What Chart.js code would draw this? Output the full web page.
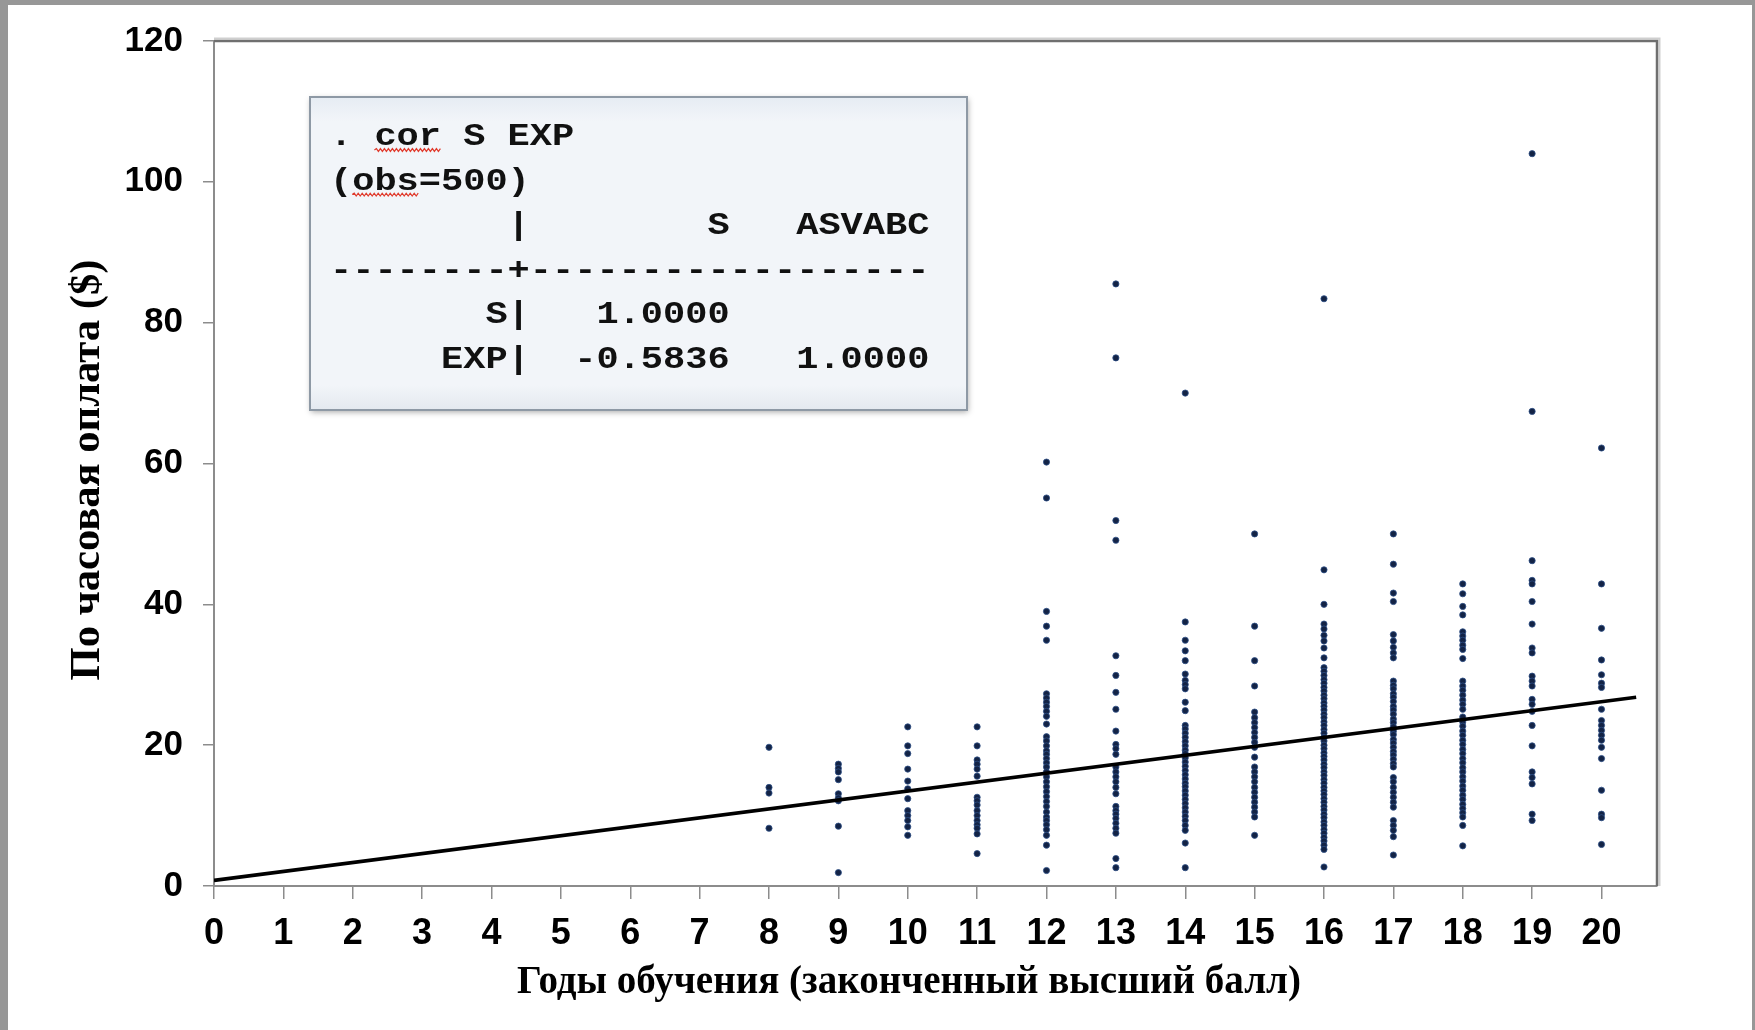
<!DOCTYPE html>
<html><head><meta charset="utf-8">
<script src="https://cdn.jsdelivr.net/npm/chart.js@4.4.1/dist/chart.umd.min.js"></script>
<style>html,body{margin:0;padding:0;background:#fff;overflow:hidden}#wrap{width:1755px;height:1030px;position:relative}</style>
</head><body><div id="wrap"><canvas id="c" width="1755" height="1030"></canvas></div>
<script>
// ---- data ----
const schooling = [8, 9, 10, 11, 12, 13, 14, 15, 16, 17, 18, 19, 20];
const wage8  = [19.7, 14.0, 13.2, 8.2];
const wage9  = [17.3, 16.7, 16.2, 15.1, 13.1, 12.5, 12.1, 8.5, 1.9];
const wage10 = [22.6, 19.9, 18.8, 16.6, 14.9, 13.8, 12.4, 10.7, 10.0, 9.3, 8.4, 7.2];
const wage11 = [22.6, 19.9, 17.9, 17.3, 16.6, 15.6, 12.6, 12.1, 11.5, 10.7, 10.0, 9.3, 8.7, 8.2, 7.4, 4.6];
const wage12 = [60.2, 55.1, 39.0, 36.9, 34.9, 27.3, 26.7, 26.1, 25.5, 24.8, 24.1, 23.0, 21.2, 20.6, 19.9, 19.2, 18.7, 18.1, 17.5, 16.9, 16.2, 15.5, 14.8, 14.1, 13.4, 12.7, 12.0, 11.3, 10.5, 9.8, 9.3, 8.7, 8.0, 7.2, 5.8, 2.2];
const wage13 = [85.5, 75.0, 51.9, 49.1, 32.7, 29.9, 27.5, 25.1, 22.0, 20.1, 19.5, 18.7, 16.9, 16.2, 15.5, 14.8, 14.0, 13.1, 11.3, 10.7, 10.2, 9.6, 8.9, 8.2, 7.5, 3.9, 2.6];
const wage14 = [70.0, 37.5, 34.9, 33.4, 32.0, 30.1, 29.2, 28.6, 28.0, 26.1, 24.9, 22.8, 22.3, 21.7, 21.1, 20.5, 19.9, 19.3, 18.8, 18.2, 17.6, 17.0, 16.4, 15.8, 15.2, 14.6, 14.1, 13.5, 12.9, 12.3, 11.7, 11.1, 10.5, 9.9, 9.3, 8.6, 7.9, 6.1, 2.6];
const wage15 = [50.0, 36.9, 32.0, 28.4, 24.7, 23.9, 23.2, 22.5, 21.8, 21.1, 20.4, 19.7, 18.3, 16.9, 16.2, 15.5, 14.8, 14.0, 13.3, 12.6, 11.9, 11.2, 10.5, 9.8, 7.2];
const wage16 = [83.4, 44.9, 40.0, 37.2, 36.5, 35.6, 34.8, 33.8, 32.4, 31.0, 30.5, 29.9, 29.3, 28.8, 28.2, 27.7, 27.1, 26.6, 26.0, 25.5, 25.0, 24.4, 23.9, 23.3, 22.8, 22.2, 21.7, 21.1, 20.6, 20.0, 19.5, 18.9, 18.4, 17.9, 17.3, 16.8, 16.2, 15.7, 15.1, 14.6, 14.0, 13.5, 13.0, 12.4, 11.9, 11.3, 10.8, 10.2, 9.7, 9.1, 8.6, 8.0, 7.5, 6.9, 6.4, 5.8, 5.2, 2.7];
const wage17 = [50.0, 45.7, 41.6, 40.4, 35.7, 34.8, 33.9, 33.1, 32.4, 29.1, 28.5, 28.0, 27.3, 26.8, 26.2, 25.5, 25.0, 24.4, 23.7, 23.2, 22.6, 22.0, 21.5, 20.8, 20.3, 19.7, 19.1, 18.6, 18.0, 17.4, 16.9, 15.4, 14.8, 14.0, 13.3, 12.6, 11.9, 11.2, 9.3, 8.6, 7.9, 7.0, 4.4];
const wage18 = [42.9, 41.5, 39.7, 38.5, 36.1, 35.5, 34.9, 34.2, 33.6, 32.3, 29.1, 28.4, 27.8, 27.1, 26.4, 25.8, 25.1, 24.0, 23.3, 22.7, 22.0, 21.4, 20.7, 20.1, 19.4, 18.8, 18.1, 17.5, 16.8, 16.2, 15.5, 14.9, 14.2, 13.6, 12.9, 12.3, 11.6, 11.0, 10.4, 9.8, 8.6, 5.7];
const wage19 = [104.0, 67.4, 46.2, 43.4, 42.9, 40.4, 37.2, 33.8, 33.1, 29.8, 29.1, 28.4, 26.5, 25.8, 24.8, 22.8, 19.9, 16.2, 15.4, 14.5, 10.2, 9.3];
const wage20 = [62.2, 42.9, 36.6, 32.1, 30.0, 28.8, 28.2, 25.1, 23.5, 22.8, 22.1, 21.4, 20.7, 19.7, 18.1, 13.6, 10.2, 9.7, 5.9];
const wagesBySchooling = [wage8, wage9, wage10, wage11, wage12, wage13, wage14, wage15, wage16, wage17, wage18, wage19, wage20];

const fitX = [0, 20.5];
const fitY = [0.8, 26.8];

const xTickValues = [0,1,2,3,4,5,6,7,8,9,10,11,12,13,14,15,16,17,18,19,20];
const yTickValues = [0, 20, 40, 60, 80, 100, 120];

const xTitle = 'Годы обучения (законченный высший балл)';
const yTitle = 'По часовая оплата ($)';
const boxLines = [
  '. cor S EXP',
  '(obs=500)',
  '        |        S   ASVABC',
  '--------+------------------',
  '       S|   1.0000',
  '     EXP|  -0.5836   1.0000'
];

// ---- build ----
const points = [];
schooling.forEach((s, i) => wagesBySchooling[i].forEach(w => points.push({x: s, y: w})));
const fitPoints = fitX.map((x, i) => ({x: x, y: fitY[i]}));

const framePlugin = {
  id: 'frame',
  beforeDraw(chart) {
    const c = chart.ctx;
    c.save();
    c.fillStyle = '#979797';
    c.fillRect(0, 0, chart.width, chart.height);
    c.fillStyle = '#ffffff';
    c.fillRect(8, 5, chart.width - 11, chart.height - 5);
    c.restore();
  }
};

function squiggle(c, x0, x1, y) {
  c.beginPath();
  c.moveTo(x0, y);
  let up = true;
  for (let x = x0 + 2; x <= x1; x += 2) { c.lineTo(x, up ? y - 1.4 : y + 1.4); up = !up; }
  c.stroke();
}

const decorPlugin = {
  id: 'decor',
  beforeDatasetsDraw(chart) {
    const c = chart.ctx, a = chart.chartArea;
    c.save();
    c.strokeStyle = '#cfcfcf'; c.lineWidth = 2;
    c.beginPath(); c.moveTo(a.left, a.top - 2.5); c.lineTo(a.right + 2.5, a.top - 2.5); c.lineTo(a.right + 2.5, a.bottom); c.stroke();
    c.strokeStyle = '#6f6f6f'; c.lineWidth = 2.5;
    c.beginPath(); c.moveTo(a.left, a.top); c.lineTo(a.right, a.top); c.lineTo(a.right, a.bottom); c.stroke();
    c.restore();
  },
  afterDraw(chart) {
    const c = chart.ctx, a = chart.chartArea;
    c.save();
    // --- text box ---
    const bl = a.left + 96, bt = a.top + 56, bw = 657, bh = 313;
    c.save();
    c.shadowColor = 'rgba(0,0,0,0.35)'; c.shadowBlur = 6; c.shadowOffsetX = 1; c.shadowOffsetY = 2;
    c.fillStyle = '#eef2f7';
    c.fillRect(bl, bt, bw, bh);
    c.restore();
    const g = c.createLinearGradient(0, bt, 0, bt + bh);
    g.addColorStop(0, '#e6ecf3'); g.addColorStop(0.08, '#f2f5f9'); g.addColorStop(0.92, '#f2f5f9'); g.addColorStop(1, '#e4e9ef');
    c.fillStyle = g; c.fillRect(bl, bt, bw, bh);
    c.strokeStyle = '#8e99a5'; c.lineWidth = 2;
    c.strokeRect(bl, bt, bw, bh);

    c.font = 'bold 32px "Liberation Mono", "DejaVu Sans Mono", monospace';
    c.fillStyle = '#111111';
    c.textAlign = 'left'; c.textBaseline = 'alphabetic';
    const adv = 22.2;
    const sx = adv / c.measureText('0').width;
    const tx = bl + 20, by0 = bt + 48, step = 44.6;
    boxLines.forEach((ln, i) => {
      c.save();
      c.translate(tx, by0 + i * step);
      c.scale(sx, 1);
      c.fillText(ln, 0, 0);
      c.restore();
    });
    c.strokeStyle = '#e0392b'; c.lineWidth = 1.2;
    squiggle(c, tx + 2 * adv, tx + 5 * adv, by0 + 5);
    squiggle(c, tx + 1 * adv, tx + 4 * adv, by0 + step + 5);

    // --- axis titles ---
    c.fillStyle = '#000000';
    c.textAlign = 'center'; c.textBaseline = 'alphabetic';
    c.font = 'bold 40px "Liberation Serif", "Times New Roman", serif';
    let w = c.measureText(xTitle).width;
    c.save(); c.translate(909, 993); c.scale(784 / w, 1); c.fillText(xTitle, 0, 0); c.restore();

    c.font = 'bold 43px "Liberation Serif", "Times New Roman", serif';
    w = c.measureText(yTitle).width;
    c.save(); c.translate(99, 470); c.rotate(-Math.PI / 2); c.scale(421 / w, 1); c.fillText(yTitle, 0, 0); c.restore();
    c.restore();
  }
};

const tickFontY = {family: '"Liberation Sans", Arial, sans-serif', size: 35, weight: 'bold'};
const tickFontX = {family: '"Liberation Sans", Arial, sans-serif', size: 36, weight: 'bold'};

new Chart(document.getElementById('c'), {
  type: 'scatter',
  data: {
    datasets: [
      {type: 'line', data: fitPoints, borderColor: '#000000', borderWidth: 3.6, pointRadius: 0, fill: false, tension: 0, order: 0},
      {type: 'scatter', data: points, pointRadius: 3.1, pointBackgroundColor: '#132345', pointBorderColor: '#2d4f86', pointBorderWidth: 0.8, order: 1}
    ]
  },
  options: {
    responsive: false, animation: false, devicePixelRatio: 1,
    layout: {padding: {top: 38, right: 98, left: 0, bottom: 0}},
    plugins: {legend: {display: false}, tooltip: {enabled: false}},
    scales: {
      x: {
        type: 'linear', min: 0, max: 20.8,
        afterBuildTicks: s => { s.ticks = xTickValues.map(v => ({value: v})); },
        afterFit: s => { s.height = 144; },
        ticks: {font: tickFontX, color: '#000', padding: 13, maxRotation: 0, autoSkip: false},
        grid: {drawOnChartArea: false, drawTicks: true, tickLength: 13, color: '#8c8c8c', lineWidth: 1.5},
        border: {display: true, color: '#8c8c8c', width: 2}
      },
      y: {
        type: 'linear', min: 0, max: 120,
        afterBuildTicks: s => { s.ticks = yTickValues.map(v => ({value: v})); },
        afterFit: s => { s.width = 214; },
        ticks: {font: tickFontY, color: '#000', padding: 20},
        grid: {drawOnChartArea: false, drawTicks: true, tickLength: 11, color: '#8c8c8c', lineWidth: 1.5},
        border: {display: true, color: '#8c8c8c', width: 2}
      }
    }
  },
  plugins: [framePlugin, decorPlugin]
});
</script></body></html>
